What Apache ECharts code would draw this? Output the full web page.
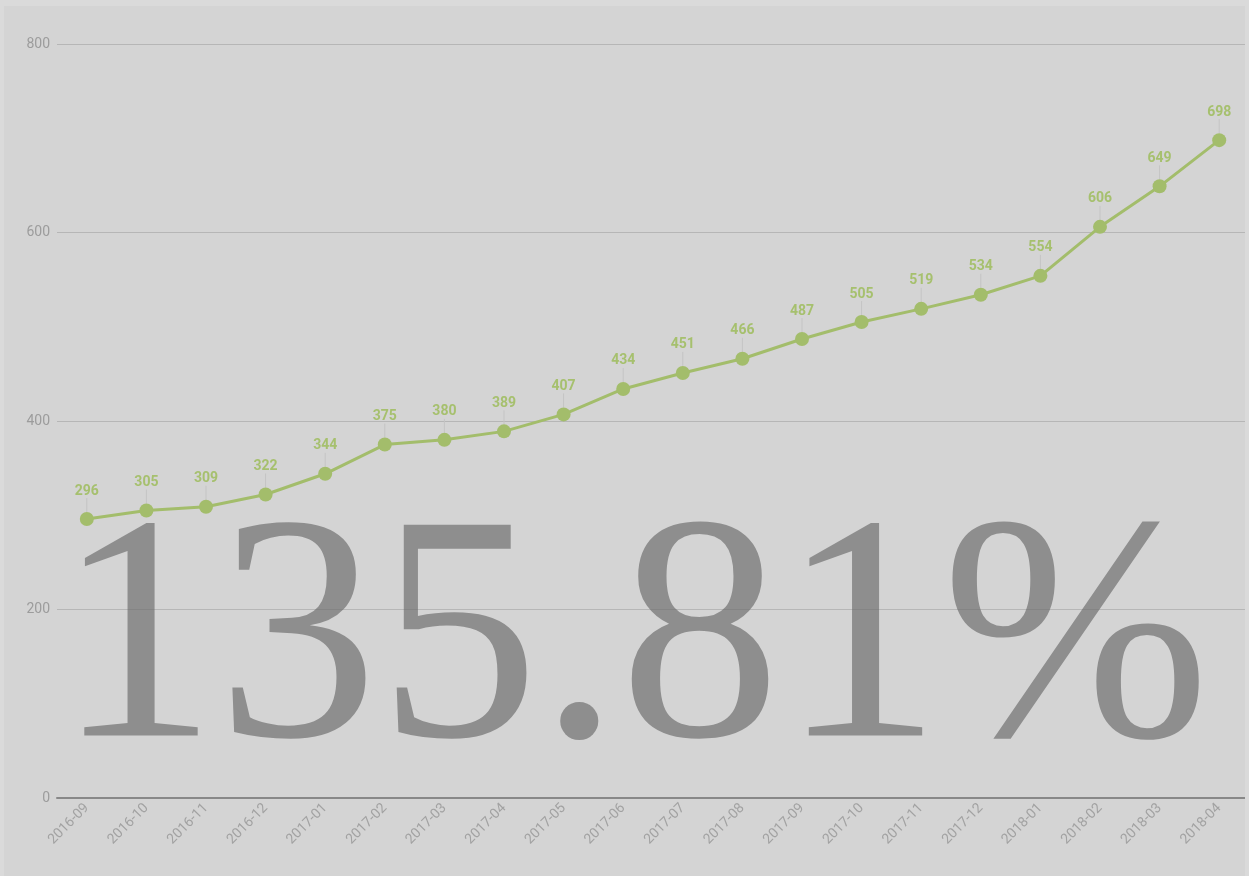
<!DOCTYPE html>
<html><head><meta charset="utf-8">
<style>html,body{margin:0;padding:0;background:#dadada;}#c{width:1249px;height:876px;}</style>
<script src="https://cdn.jsdelivr.net/npm/echarts@6/dist/echarts.min.js"></script>
</head><body><div id="c"></div>
<script>
const categories = ['2016-09','2016-10','2016-11','2016-12','2017-01','2017-02','2017-03','2017-04','2017-05','2017-06','2017-07','2017-08','2017-09','2017-10','2017-11','2017-12','2018-01','2018-02','2018-03','2018-04'];
const values = [296,305,309,322,344,375,380,389,407,434,451,466,487,505,519,534,554,606,649,698];
const yTicks = [0,200,400,600,800];
const bigText = '135.81%';

const chart = echarts.init(document.getElementById('c'), null, {renderer:'canvas'});
chart.setOption({
  backgroundColor: '#d4d4d4',
  animation: false,
  grid: {left: 57, right: 0, top: 44, bottom: 78, containLabel: false},
  xAxis: {
    type: 'category', data: categories, boundaryGap: true,
    axisLine: {show: true, lineStyle: {color: '#888888', width: 2}},
    axisTick: {show: false},
    axisLabel: {rotate: 45, color: '#a2a2a2', fontSize: 14, fontFamily: 'Roboto', margin: 8, interval: 0}
  },
  yAxis: {
    type: 'value', min: yTicks[0], max: yTicks[yTicks.length-1], interval: 200,
    axisLine: {show: false}, axisTick: {show: false},
    axisLabel: {color: '#9c9c9c', fontSize: 14, fontFamily: 'Roboto', margin: 7},
    splitLine: {lineStyle: {color: '#b6b6b6', width: 1}}
  },
  series: [{
    type: 'line', data: values,
    symbol: 'circle', symbolSize: 14,
    lineStyle: {color: '#a3bd6b', width: 3},
    itemStyle: {color: '#a3bd6b'},
    label: {show: true, position: 'top', distance: 6, color: '#a6c06e', fontSize: 14, fontWeight: 'bold', fontFamily: 'Roboto'},
    labelLayout: {dy: -8},
    labelLine: {show: true, lineStyle: {color: '#c4c4c4', width: 1}},
    z: 2
  }],
  graphic: [
    {type: 'text', left: 56, top: 490, z: 100, silent: true,
     style: {text: bigText, font: 'normal 322px "Liberation Serif"', fill: 'rgba(110,110,110,0.69)'}},
    {type: 'rect', shape: {x: 0, y: 0, width: 1249, height: 6}, style: {fill: '#dadada'}, z: 200, silent: true},
    {type: 'rect', shape: {x: 0, y: 0, width: 4, height: 876}, style: {fill: '#dadada'}, z: 200, silent: true},
    {type: 'rect', shape: {x: 1245, y: 0, width: 4, height: 876}, style: {fill: '#dadada'}, z: 200, silent: true}
  ]
});
</script></body></html>
